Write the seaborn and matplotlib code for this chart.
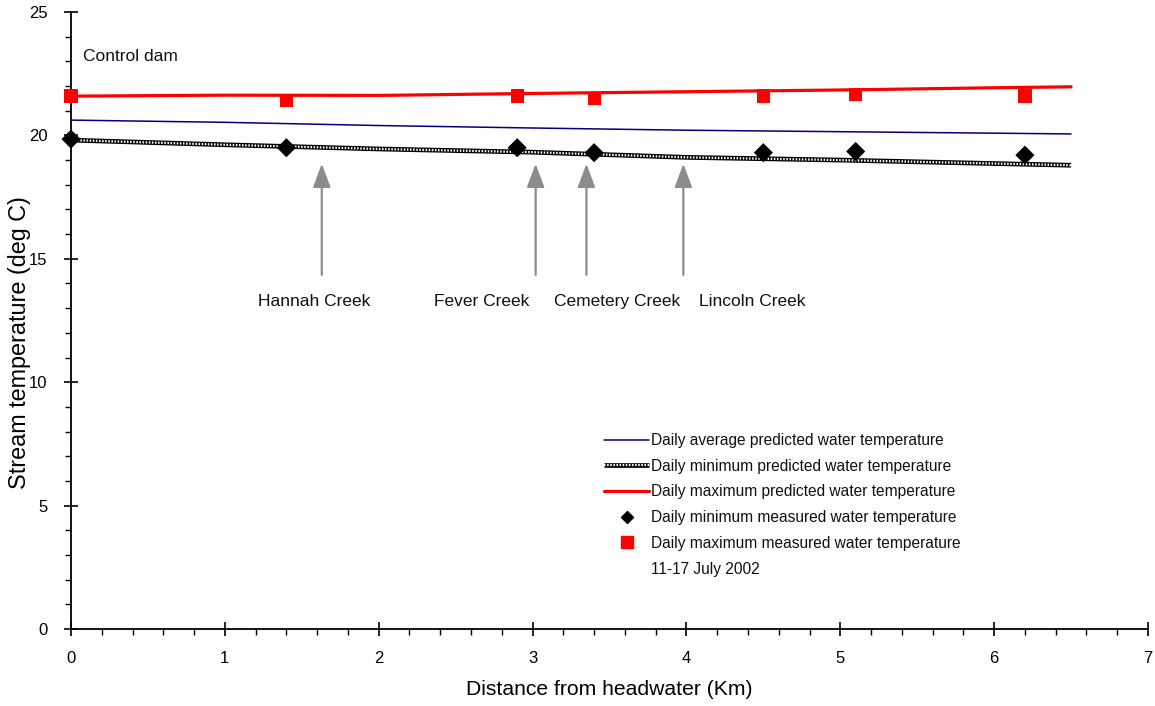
import matplotlib
matplotlib.use("Agg")
import matplotlib.pyplot as plt
import seaborn as sns
import numpy as np
import pandas as pd
from matplotlib.lines import Line2D
from matplotlib.ticker import MultipleLocator
from matplotlib import font_manager

# ---------------- data ----------------
pred_x = [0, 1, 2, 3, 4, 5, 6, 6.5]
pred_avg = [20.62, 20.53, 20.40, 20.30, 20.21, 20.15, 20.09, 20.06]
pred_min = [19.81, 19.62, 19.45, 19.32, 19.11, 19.00, 18.86, 18.79]
pred_max = [21.59, 21.63, 21.62, 21.70, 21.77, 21.84, 21.93, 21.97]

meas_x = [0, 1.4, 2.9, 3.4, 4.5, 5.1, 6.2]
meas_min = [19.85, 19.5, 19.5, 19.3, 19.3, 19.35, 19.2]
meas_max = [21.6, 21.4, 21.6, 21.5, 21.6, 21.65, 21.6]

creek_names = ["Hannah Creek", "Fever Creek", "Cemetery Creek", "Lincoln Creek"]
creek_x = [1.63, 3.02, 3.35, 3.98]

legend_labels = [
    "Daily average predicted water temperature",
    "Daily minimum predicted water temperature",
    "Daily maximum predicted water temperature",
    "Daily minimum measured water temperature",
    "Daily maximum measured water temperature",
    "11-17 July 2002",
]

# ---------------- style ----------------
sns.set_theme(style="ticks")
avail = {f.name for f in font_manager.fontManager.ttflist}
base_font = "Liberation Sans" if "Liberation Sans" in avail else "DejaVu Sans"
plt.rcParams["font.family"] = [base_font, "DejaVu Sans"]

fig = plt.figure(figsize=(11.55, 7.06), dpi=100)
ax = fig.add_axes([71 / 1155, 77 / 706, (1148 - 71) / 1155, (629 - 12) / 706])

pred_df = pd.DataFrame({"x": pred_x, "avg": pred_avg, "min": pred_min, "max": pred_max})
meas_df = pd.DataFrame({"x": meas_x, "min": meas_min, "max": meas_max})

# predicted lines
sns.lineplot(data=pred_df, x="x", y="avg", ax=ax, color="#000080", lw=1.1, zorder=3)
sns.lineplot(data=pred_df, x="x", y="min", ax=ax, color="black", lw=3.4, zorder=3,
             solid_capstyle="butt")
sns.lineplot(data=pred_df, x="x", y="min", ax=ax, color="white", lw=1.6,
             linestyle=(0, (0.7, 0.7)), zorder=3.1)
sns.lineplot(data=pred_df, x="x", y="max", ax=ax, color="#ff0000", lw=2.3, zorder=3)

# measured points
sns.scatterplot(data=meas_df, x="x", y="min", ax=ax, marker="D", color="black",
                s=95, edgecolor="none", zorder=4, clip_on=False)
sns.scatterplot(data=meas_df, x="x", y="max", ax=ax, marker="s", color="#ff0000",
                s=90, edgecolor="none", zorder=4, clip_on=False)

# creek arrows and labels
label_x = [1.58, 2.67, 3.55, 4.43]
for cx, lx, name in zip(creek_x, label_x, creek_names):
    ax.annotate("", xy=(cx, 18.85), xytext=(cx, 14.35),
                arrowprops=dict(arrowstyle="-|>,head_length=1.2,head_width=0.45",
                                color="#8c8c8c", lw=1.6, shrinkA=0, shrinkB=0))
    ax.text(lx, 13.25, name, ha="center", va="center", fontsize=12.5, color="#111111")

ax.text(0.078, 23.2, "Control dam", ha="left", va="center", fontsize=12.5, color="#111111")

# axes
ax.set_xlim(0, 7)
ax.set_ylim(0, 25)
ax.xaxis.set_major_locator(MultipleLocator(1))
ax.xaxis.set_minor_locator(MultipleLocator(0.2))
ax.yaxis.set_major_locator(MultipleLocator(5))
ax.yaxis.set_minor_locator(MultipleLocator(1))
sns.despine(ax=ax)
for s in ["left", "bottom"]:
    ax.spines[s].set_linewidth(1.3)
    ax.spines[s].set_color("black")
ax.tick_params(axis="both", which="major", direction="inout", length=10, width=1.2,
               color="black", labelsize=12, labelcolor="black")
ax.tick_params(axis="both", which="minor", direction="out", length=4, width=1.0, color="black")
ax.tick_params(axis="x", which="major", pad=11)
ax.tick_params(axis="y", which="major", pad=12)

ax.set_xlabel("Distance from headwater (Km)", fontsize=15.2, labelpad=10, color="black")
ax.set_ylabel("Stream temperature (deg C)", fontsize=16.8, color="black")
ax.yaxis.set_label_coords(-0.0375, 0.4635)

# legend
h_avg = Line2D([], [], color="#000080", lw=1.1)
h_min = (Line2D([], [], color="black", lw=3.4, solid_capstyle="butt"),
         Line2D([], [], color="white", lw=1.6, linestyle=(0, (0.7, 0.7))))
h_max = Line2D([], [], color="#ff0000", lw=2.3)
h_mmin = Line2D([], [], color="black", marker="D", ms=6, lw=0)
h_mmax = Line2D([], [], color="#ff0000", marker="s", ms=8, lw=0)
h_blank = Line2D([], [], lw=0, alpha=0)
leg = ax.legend([h_avg, h_min, h_max, h_mmin, h_mmax, h_blank], legend_labels,
                loc="upper left", bbox_to_anchor=(604 / 1155, 1 - 433 / 706),
                bbox_transform=fig.transFigure, frameon=False, fontsize=11.2,
                handlelength=2.9, handletextpad=0.12, labelspacing=0.69,
                borderpad=0, borderaxespad=0)
for t in leg.get_texts():
    t.set_color("#111111")

fig.savefig("out.png", dpi=100)
